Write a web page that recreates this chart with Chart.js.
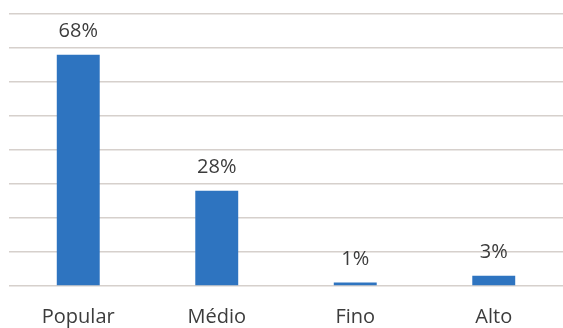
<!DOCTYPE html>
<html>
<head>
<meta charset="utf-8">
<script src="https://cdn.jsdelivr.net/npm/chart.js@4"></script>
<style>
html,body{margin:0;padding:0;background:#fff;}
#wrap{width:563px;height:328px;position:relative;}
</style>
</head>
<body>
<div id="wrap"><canvas id="c"></canvas></div>
<script>
const categories = ["Popular", "Médio", "Fino", "Alto"];
const values = [68, 28, 1, 3];
const valueLabels = ["68%", "28%", "1%", "3%"];

const labelPlugin = {
  id: 'valueLabels',
  afterDatasetsDraw(chart) {
    const ctx = chart.ctx;
    const meta = chart.getDatasetMeta(0);
    ctx.save();
    ctx.font = '20px "Open Sans"';
    ctx.fillStyle = '#3c3c3c';
    ctx.textAlign = 'center';
    ctx.textBaseline = 'alphabetic';
    meta.data.forEach((bar, i) => {
      ctx.fillText(valueLabels[i], bar.x, bar.y - 18);
    });
    ctx.restore();
  }
};

new Chart(document.getElementById('c'), {
  type: 'bar',
  data: {
    labels: categories,
    datasets: [{
      data: values,
      backgroundColor: '#2e74c0',
      borderWidth: 0,
      barPercentage: 0.31,
      categoryPercentage: 1
    }]
  },
  options: {
    responsive: true,
    maintainAspectRatio: false,
    animation: false,
    layout: { padding: { top: 14, left: 9, right: 0, bottom: 0 } },
    plugins: { legend: { display: false }, tooltip: { enabled: false } },
    scales: {
      x: {
        grid: { display: false, drawTicks: false },
        border: { display: false },
        afterFit(scale) { scale.height = 42; },
        ticks: {
          font: { family: '"Open Sans"', size: 20 },
          color: '#3c3c3c',
          padding: 19,
          maxRotation: 0
        }
      },
      y: {
        min: 0, max: 80,
        ticks: { display: false, stepSize: 10 },
        grid: { color: '#d6d0cc', lineWidth: 1.5, drawTicks: false },
        border: { display: false }
      }
    }
  },
  plugins: [labelPlugin]
});
</script>
</body>
</html>
